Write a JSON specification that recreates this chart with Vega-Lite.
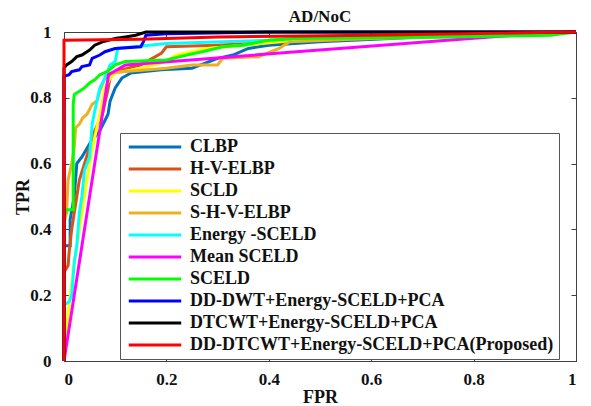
{
  "$schema": "https://vega.github.io/schema/vega-lite/v6.json",
  "width": 512,
  "height": 329,
  "autosize": {"type": "none"},
  "padding": {"left": 64, "top": 32, "right": 15, "bottom": 45},
  "background": "white",
  "config": {
    "view": {"stroke": "#404040", "strokeWidth": 1},
    "axis": {"labelFont": "Liberation Serif", "labelFontWeight": "bold", "labelFontSize": 17, "labelColor": "#111", "titleFont": "Liberation Serif", "titleFontWeight": "bold", "titleFontSize": 18, "titleColor": "#111", "grid": false, "domainColor": "#404040", "tickColor": "#404040", "tickSize": -5}
  },
  "title": {"text": "AD/NoC", "font": "Liberation Serif", "fontWeight": "bold", "fontSize": 17, "color": "#111", "offset": -3},
  "data": {"values": [
    {"s":"CLBP","i":0,"x":0,"y":0},{"s":"CLBP","i":1,"x":0,"y":0.35},{"s":"CLBP","i":2,"x":0.012,"y":0.35},{"s":"CLBP","i":3,"x":0.012,"y":0.43},{"s":"CLBP","i":4,"x":0.02,"y":0.5},{"s":"CLBP","i":5,"x":0.025,"y":0.6},{"s":"CLBP","i":6,"x":0.035,"y":0.62},{"s":"CLBP","i":7,"x":0.05,"y":0.66},{"s":"CLBP","i":8,"x":0.07,"y":0.7},{"s":"CLBP","i":9,"x":0.086,"y":0.75},{"s":"CLBP","i":10,"x":0.09,"y":0.79},{"s":"CLBP","i":11,"x":0.1,"y":0.83},{"s":"CLBP","i":12,"x":0.113,"y":0.86},{"s":"CLBP","i":13,"x":0.13,"y":0.875},{"s":"CLBP","i":14,"x":0.19,"y":0.885},{"s":"CLBP","i":15,"x":0.25,"y":0.89},{"s":"CLBP","i":16,"x":0.3,"y":0.92},{"s":"CLBP","i":17,"x":0.33,"y":0.93},{"s":"CLBP","i":18,"x":0.36,"y":0.95},{"s":"CLBP","i":19,"x":0.4,"y":0.96},{"s":"CLBP","i":20,"x":0.5,"y":0.97},{"s":"CLBP","i":21,"x":0.7,"y":0.985},{"s":"CLBP","i":22,"x":1,"y":1},
    {"s":"H-V-ELBP","i":0,"x":0,"y":0},{"s":"H-V-ELBP","i":1,"x":0,"y":0.27},{"s":"H-V-ELBP","i":2,"x":0.008,"y":0.29},{"s":"H-V-ELBP","i":3,"x":0.01,"y":0.33},{"s":"H-V-ELBP","i":4,"x":0.015,"y":0.4},{"s":"H-V-ELBP","i":5,"x":0.02,"y":0.45},{"s":"H-V-ELBP","i":6,"x":0.025,"y":0.5},{"s":"H-V-ELBP","i":7,"x":0.03,"y":0.55},{"s":"H-V-ELBP","i":8,"x":0.04,"y":0.6},{"s":"H-V-ELBP","i":9,"x":0.05,"y":0.65},{"s":"H-V-ELBP","i":10,"x":0.06,"y":0.7},{"s":"H-V-ELBP","i":11,"x":0.075,"y":0.75},{"s":"H-V-ELBP","i":12,"x":0.085,"y":0.82},{"s":"H-V-ELBP","i":13,"x":0.09,"y":0.86},{"s":"H-V-ELBP","i":14,"x":0.1,"y":0.88},{"s":"H-V-ELBP","i":15,"x":0.15,"y":0.9},{"s":"H-V-ELBP","i":16,"x":0.19,"y":0.935},{"s":"H-V-ELBP","i":17,"x":0.2,"y":0.955},{"s":"H-V-ELBP","i":18,"x":0.3,"y":0.96},{"s":"H-V-ELBP","i":19,"x":0.5,"y":0.975},{"s":"H-V-ELBP","i":20,"x":1,"y":1},
    {"s":"SCLD","i":0,"x":0,"y":0},{"s":"SCLD","i":1,"x":0.005,"y":0.1},{"s":"SCLD","i":2,"x":0.01,"y":0.17},{"s":"SCLD","i":3,"x":0.02,"y":0.3},{"s":"SCLD","i":4,"x":0.03,"y":0.4},{"s":"SCLD","i":5,"x":0.04,"y":0.5},{"s":"SCLD","i":6,"x":0.05,"y":0.6},{"s":"SCLD","i":7,"x":0.06,"y":0.68},{"s":"SCLD","i":8,"x":0.07,"y":0.75},{"s":"SCLD","i":9,"x":0.08,"y":0.83},{"s":"SCLD","i":10,"x":0.09,"y":0.86},{"s":"SCLD","i":11,"x":0.1,"y":0.875},{"s":"SCLD","i":12,"x":0.15,"y":0.89},{"s":"SCLD","i":13,"x":0.2,"y":0.91},{"s":"SCLD","i":14,"x":0.22,"y":0.93},{"s":"SCLD","i":15,"x":0.28,"y":0.95},{"s":"SCLD","i":16,"x":0.35,"y":0.96},{"s":"SCLD","i":17,"x":0.45,"y":0.975},{"s":"SCLD","i":18,"x":0.6,"y":0.985},{"s":"SCLD","i":19,"x":1,"y":1},
    {"s":"S-H-V-ELBP","i":0,"x":0,"y":0},{"s":"S-H-V-ELBP","i":1,"x":0,"y":0.42},{"s":"S-H-V-ELBP","i":2,"x":0.005,"y":0.45},{"s":"S-H-V-ELBP","i":3,"x":0.008,"y":0.55},{"s":"S-H-V-ELBP","i":4,"x":0.015,"y":0.6},{"s":"S-H-V-ELBP","i":5,"x":0.02,"y":0.65},{"s":"S-H-V-ELBP","i":6,"x":0.023,"y":0.71},{"s":"S-H-V-ELBP","i":7,"x":0.03,"y":0.72},{"s":"S-H-V-ELBP","i":8,"x":0.037,"y":0.74},{"s":"S-H-V-ELBP","i":9,"x":0.045,"y":0.75},{"s":"S-H-V-ELBP","i":10,"x":0.055,"y":0.78},{"s":"S-H-V-ELBP","i":11,"x":0.064,"y":0.79},{"s":"S-H-V-ELBP","i":12,"x":0.07,"y":0.82},{"s":"S-H-V-ELBP","i":13,"x":0.08,"y":0.86},{"s":"S-H-V-ELBP","i":14,"x":0.09,"y":0.875},{"s":"S-H-V-ELBP","i":15,"x":0.12,"y":0.88},{"s":"S-H-V-ELBP","i":16,"x":0.2,"y":0.89},{"s":"S-H-V-ELBP","i":17,"x":0.25,"y":0.9},{"s":"S-H-V-ELBP","i":18,"x":0.3,"y":0.9},{"s":"S-H-V-ELBP","i":19,"x":0.31,"y":0.92},{"s":"S-H-V-ELBP","i":20,"x":0.38,"y":0.925},{"s":"S-H-V-ELBP","i":21,"x":0.42,"y":0.95},{"s":"S-H-V-ELBP","i":22,"x":0.44,"y":0.97},{"s":"S-H-V-ELBP","i":23,"x":0.6,"y":0.98},{"s":"S-H-V-ELBP","i":24,"x":0.74,"y":0.985},{"s":"S-H-V-ELBP","i":25,"x":1,"y":1},
    {"s":"Energy -SCELD","i":0,"x":0,"y":0},{"s":"Energy -SCELD","i":1,"x":0,"y":0.17},{"s":"Energy -SCELD","i":2,"x":0.01,"y":0.18},{"s":"Energy -SCELD","i":3,"x":0.015,"y":0.2},{"s":"Energy -SCELD","i":4,"x":0.02,"y":0.3},{"s":"Energy -SCELD","i":5,"x":0.025,"y":0.35},{"s":"Energy -SCELD","i":6,"x":0.03,"y":0.45},{"s":"Energy -SCELD","i":7,"x":0.035,"y":0.5},{"s":"Energy -SCELD","i":8,"x":0.04,"y":0.58},{"s":"Energy -SCELD","i":9,"x":0.05,"y":0.62},{"s":"Energy -SCELD","i":10,"x":0.055,"y":0.72},{"s":"Energy -SCELD","i":11,"x":0.06,"y":0.76},{"s":"Energy -SCELD","i":12,"x":0.07,"y":0.83},{"s":"Energy -SCELD","i":13,"x":0.08,"y":0.86},{"s":"Energy -SCELD","i":14,"x":0.09,"y":0.9},{"s":"Energy -SCELD","i":15,"x":0.1,"y":0.91},{"s":"Energy -SCELD","i":16,"x":0.105,"y":0.95},{"s":"Energy -SCELD","i":17,"x":0.2,"y":0.965},{"s":"Energy -SCELD","i":18,"x":0.4,"y":0.975},{"s":"Energy -SCELD","i":19,"x":0.5,"y":0.985},{"s":"Energy -SCELD","i":20,"x":1,"y":1},
    {"s":"Mean SCELD","i":0,"x":0,"y":0},{"s":"Mean SCELD","i":1,"x":0.087,"y":0.87},{"s":"Mean SCELD","i":2,"x":0.12,"y":0.9},{"s":"Mean SCELD","i":3,"x":0.92,"y":0.995},{"s":"Mean SCELD","i":4,"x":1,"y":1},
    {"s":"SCELD","i":0,"x":0,"y":0},{"s":"SCELD","i":1,"x":0,"y":0.44},{"s":"SCELD","i":2,"x":0.005,"y":0.46},{"s":"SCELD","i":3,"x":0.018,"y":0.46},{"s":"SCELD","i":4,"x":0.018,"y":0.78},{"s":"SCELD","i":5,"x":0.02,"y":0.81},{"s":"SCELD","i":6,"x":0.03,"y":0.82},{"s":"SCELD","i":7,"x":0.04,"y":0.83},{"s":"SCELD","i":8,"x":0.05,"y":0.845},{"s":"SCELD","i":9,"x":0.06,"y":0.855},{"s":"SCELD","i":10,"x":0.07,"y":0.87},{"s":"SCELD","i":11,"x":0.085,"y":0.88},{"s":"SCELD","i":12,"x":0.1,"y":0.9},{"s":"SCELD","i":13,"x":0.12,"y":0.91},{"s":"SCELD","i":14,"x":0.2,"y":0.915},{"s":"SCELD","i":15,"x":0.24,"y":0.93},{"s":"SCELD","i":16,"x":0.27,"y":0.94},{"s":"SCELD","i":17,"x":0.31,"y":0.955},{"s":"SCELD","i":18,"x":0.35,"y":0.96},{"s":"SCELD","i":19,"x":0.4,"y":0.975},{"s":"SCELD","i":20,"x":0.45,"y":0.98},{"s":"SCELD","i":21,"x":0.74,"y":0.985},{"s":"SCELD","i":22,"x":0.95,"y":0.99},{"s":"SCELD","i":23,"x":1,"y":1},
    {"s":"DD-DWT+Energy-SCELD+PCA","i":0,"x":0,"y":0},{"s":"DD-DWT+Energy-SCELD+PCA","i":1,"x":0,"y":0.865},{"s":"DD-DWT+Energy-SCELD+PCA","i":2,"x":0.01,"y":0.87},{"s":"DD-DWT+Energy-SCELD+PCA","i":3,"x":0.015,"y":0.88},{"s":"DD-DWT+Energy-SCELD+PCA","i":4,"x":0.03,"y":0.885},{"s":"DD-DWT+Energy-SCELD+PCA","i":5,"x":0.035,"y":0.895},{"s":"DD-DWT+Energy-SCELD+PCA","i":6,"x":0.05,"y":0.9},{"s":"DD-DWT+Energy-SCELD+PCA","i":7,"x":0.055,"y":0.92},{"s":"DD-DWT+Energy-SCELD+PCA","i":8,"x":0.07,"y":0.93},{"s":"DD-DWT+Energy-SCELD+PCA","i":9,"x":0.08,"y":0.94},{"s":"DD-DWT+Energy-SCELD+PCA","i":10,"x":0.1,"y":0.95},{"s":"DD-DWT+Energy-SCELD+PCA","i":11,"x":0.15,"y":0.955},{"s":"DD-DWT+Energy-SCELD+PCA","i":12,"x":0.155,"y":0.97},{"s":"DD-DWT+Energy-SCELD+PCA","i":13,"x":0.16,"y":0.99},{"s":"DD-DWT+Energy-SCELD+PCA","i":14,"x":0.2,"y":0.995},{"s":"DD-DWT+Energy-SCELD+PCA","i":15,"x":0.4,"y":1},{"s":"DD-DWT+Energy-SCELD+PCA","i":16,"x":1,"y":1},
    {"s":"DTCWT+Energy-SCELD+PCA","i":0,"x":0,"y":0},{"s":"DTCWT+Energy-SCELD+PCA","i":1,"x":0,"y":0.89},{"s":"DTCWT+Energy-SCELD+PCA","i":2,"x":0.005,"y":0.9},{"s":"DTCWT+Energy-SCELD+PCA","i":3,"x":0.015,"y":0.91},{"s":"DTCWT+Energy-SCELD+PCA","i":4,"x":0.025,"y":0.925},{"s":"DTCWT+Energy-SCELD+PCA","i":5,"x":0.035,"y":0.93},{"s":"DTCWT+Energy-SCELD+PCA","i":6,"x":0.05,"y":0.945},{"s":"DTCWT+Energy-SCELD+PCA","i":7,"x":0.06,"y":0.96},{"s":"DTCWT+Energy-SCELD+PCA","i":8,"x":0.075,"y":0.97},{"s":"DTCWT+Energy-SCELD+PCA","i":9,"x":0.1,"y":0.98},{"s":"DTCWT+Energy-SCELD+PCA","i":10,"x":0.12,"y":0.985},{"s":"DTCWT+Energy-SCELD+PCA","i":11,"x":0.14,"y":0.99},{"s":"DTCWT+Energy-SCELD+PCA","i":12,"x":0.16,"y":1},{"s":"DTCWT+Energy-SCELD+PCA","i":13,"x":1,"y":1},
    {"s":"DD-DTCWT+Energy-SCELD+PCA(Proposed)","i":0,"x":0,"y":0},{"s":"DD-DTCWT+Energy-SCELD+PCA(Proposed)","i":1,"x":0,"y":0.975},{"s":"DD-DTCWT+Energy-SCELD+PCA(Proposed)","i":2,"x":0.15,"y":0.978},{"s":"DD-DTCWT+Energy-SCELD+PCA(Proposed)","i":3,"x":0.3,"y":0.985},{"s":"DD-DTCWT+Energy-SCELD+PCA(Proposed)","i":4,"x":0.6,"y":0.99},{"s":"DD-DTCWT+Energy-SCELD+PCA(Proposed)","i":5,"x":1,"y":1}
  ]},
  "layer": [
    {
      "mark": {"type": "line", "strokeWidth": 3, "strokeJoin": "miter"},
      "encoding": {
        "x": {"field": "x", "type": "quantitative", "scale": {"domain": [0, 1]}, "axis": {"title": "FPR", "values": [0, 0.2, 0.4, 0.6, 0.8, 1], "format": "~g", "labelPadding": 15, "titlePadding": 1}},
        "y": {"field": "y", "type": "quantitative", "scale": {"domain": [0, 1]}, "axis": {"title": "TPR", "values": [0, 0.2, 0.4, 0.6, 0.8, 1], "format": "~g", "labelPadding": 18, "titlePadding": -3}},
        "order": {"field": "i"},
        "color": {
          "field": "s", "type": "nominal",
          "scale": {
            "domain": ["CLBP", "H-V-ELBP", "SCLD", "S-H-V-ELBP", "Energy -SCELD", "Mean SCELD", "SCELD", "DD-DWT+Energy-SCELD+PCA", "DTCWT+Energy-SCELD+PCA", "DD-DTCWT+Energy-SCELD+PCA(Proposed)"],
            "range": ["#0072BD", "#D95319", "#FFFF00", "#EDB120", "#00FFFF", "#FF00FF", "#00FF00", "#0000FF", "#000000", "#FF0000"]
          },
          "legend": {"orient": "none", "legendX": 56, "legendY": 101, "title": null, "symbolType": "M-5,0H5", "symbolSize": 110, "symbolStrokeWidth": 3, "symbolOffset": 21, "labelFont": "Liberation Serif", "labelFontSize": 18, "labelFontWeight": "bold", "labelColor": "#111", "strokeColor": "#555", "fillColor": "white", "padding": 5, "rowPadding": 4, "labelOffset": 26, "labelLimit": 600}
        }
      }
    },
    {
      "data": {"values": [{"x": 0, "y": 0}]},
      "mark": {"type": "point", "opacity": 0},
      "encoding": {
        "x": {"field": "x", "type": "quantitative", "axis": {"orient": "top", "title": null, "labels": false, "domain": false, "values": [0, 0.2, 0.4, 0.6, 0.8, 1]}},
        "y": {"field": "y", "type": "quantitative", "axis": {"orient": "right", "title": null, "labels": false, "domain": false, "values": [0, 0.2, 0.4, 0.6, 0.8, 1]}}
      }
    }
  ],
  "resolve": {"axis": {"x": "independent", "y": "independent"}}
}
